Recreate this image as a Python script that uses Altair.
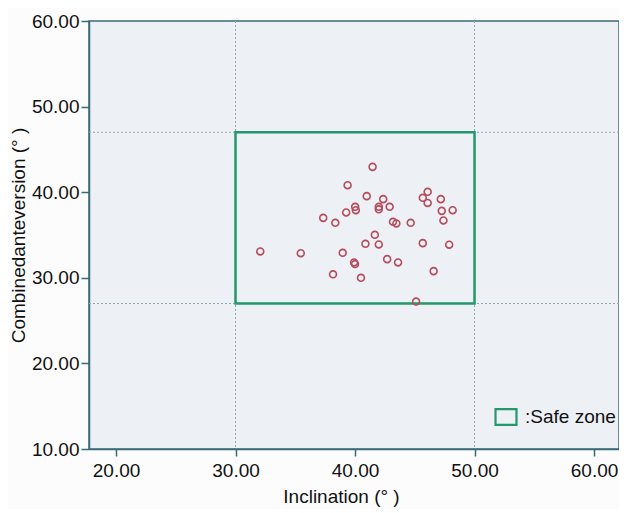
import altair as alt
import pandas as pd

# Data
inclination = [32.07, 35.46, 37.34, 38.35, 39.38, 39.26, 40.01, 40.07, 41.47, 40.98,
               42.36, 41.99, 41.99, 42.90, 43.18, 43.46, 44.66, 45.67, 46.08, 46.08,
               47.18, 47.26, 48.17, 47.40, 41.66, 40.87, 41.99, 45.67, 47.88, 38.97,
               39.92, 40.00, 42.69, 43.60, 40.50, 38.16, 46.58, 45.11]
combined = [33.08, 32.88, 37.00, 36.42, 40.82, 37.63, 38.29, 37.90, 42.96, 39.54,
            39.19, 38.29, 38.00, 38.29, 36.54, 36.35, 36.42, 39.34, 40.04, 38.75,
            39.19, 37.82, 37.90, 36.70, 35.02, 33.97, 33.90, 34.05, 33.87, 32.92,
            31.80, 31.60, 32.18, 31.80, 30.00, 30.41, 30.78, 27.22]
safe_x = [30, 50]
safe_y = [27, 47]
zone_label = ["Safe zone"]
x_ticks = [20, 30, 40, 50, 60]
y_ticks = [10, 20, 30, 40, 50, 60]
x_domain = [17.74, 62.09]
y_domain = [10, 60]

FONT = "Liberation Sans"
AXIS_COL = "#3a6b78"
GREEN = "#23986a"
POINT_COL = "#b44c5c"
GRID_COL = "#8ea6b6"

pts = pd.DataFrame({"x": inclination, "y": combined})
zone = pd.DataFrame({"x1": [safe_x[0]], "x2": [safe_x[1]],
                     "y1": [safe_y[0]], "y2": [safe_y[1]], "zone": zone_label})
vlines = pd.DataFrame({"x": safe_x})
hlines = pd.DataFrame({"y": safe_y})

xscale = alt.Scale(domain=x_domain, nice=False, zero=False)
yscale = alt.Scale(domain=y_domain, nice=False, zero=False)

xaxis = alt.Axis(values=x_ticks, format=".2f", title="Inclination (° )", grid=False,
                 tickSize=7, labelPadding=5, titlePadding=7, titleX=252)
yaxis = alt.Axis(values=y_ticks, format=".2f", title="Combinedanteversion (° )", grid=False,
                 tickSize=8, labelPadding=2, titlePadding=3)

vrule = alt.Chart(vlines).mark_rule(color=GRID_COL, strokeDash=[2, 2], strokeWidth=1).encode(
    x=alt.X("x:Q", scale=xscale, axis=xaxis)
)
hrule = alt.Chart(hlines).mark_rule(color=GRID_COL, strokeDash=[2, 2], strokeWidth=1).encode(
    y=alt.Y("y:Q", scale=yscale, axis=yaxis)
)

rect = alt.Chart(zone).mark_rect(filled=False, strokeWidth=2.5).encode(
    x=alt.X("x1:Q", scale=xscale, axis=xaxis),
    x2="x2:Q",
    y=alt.Y("y1:Q", scale=yscale, axis=yaxis),
    y2="y2:Q",
    stroke=alt.Stroke("zone:N", scale=alt.Scale(domain=zone_label, range=[GREEN]),
                      legend=alt.Legend(title=None, orient="none", legendX=405, legendY=384,
                                        symbolType="M-1,-0.75H1V0.75H-1Z", symbolSize=440,
                                        symbolStrokeWidth=2.2, symbolFillColor="transparent",
                                        labelExpr="':' + datum.label", labelFontSize=19,
                                        labelFont=FONT, labelColor="#111111", labelOffset=7,
                                        padding=0)),
)

points = alt.Chart(pts).mark_point(shape="circle", filled=False, size=48, strokeWidth=1.6,
                                   color=POINT_COL, opacity=1).encode(
    x=alt.X("x:Q", scale=xscale, axis=xaxis),
    y=alt.Y("y:Q", scale=yscale, axis=yaxis),
)

chart = alt.layer(vrule, hrule, rect, points).properties(
    width=530, height=428,
    autosize=alt.AutoSizeParams(type="none"),
    padding={"left": 81, "top": 13, "right": 0, "bottom": 60},
    background="#fcfcfd",
).configure_view(
    fill="#edf0f4", stroke=AXIS_COL, strokeWidth=1.5
).configure_axis(
    labelFont=FONT, titleFont=FONT, labelFontSize=19, titleFontSize=19,
    labelColor="#111111", titleColor="#111111", titleFontWeight="normal",
    domainColor=AXIS_COL, domainWidth=1.5, tickColor=AXIS_COL, tickWidth=1.5,
)

chart.save("out.html", embed_options={"renderer": "svg", "actions": False})
